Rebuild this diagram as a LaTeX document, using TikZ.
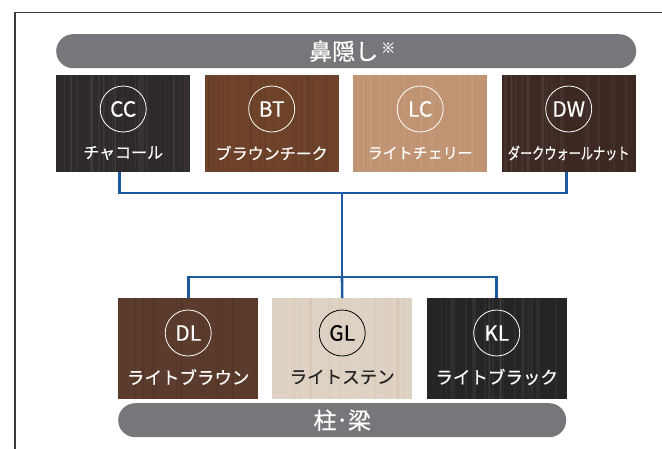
\documentclass[tikz,border=0pt]{standalone}
\usepackage{fontspec}
\setmainfont{Noto Sans CJK JP}
\newfontfamily\jp[FakeBold=0.6]{Noto Sans CJK JP}
\newfontfamily\lat[FakeBold=0.3]{Noto Sans CJK JP}
\usetikzlibrary{calc}
\definecolor{pillgray}{HTML}{76777A}
\definecolor{connblue}{HTML}{1E5AA0}
\definecolor{framegray}{HTML}{3A3A3A}
\definecolor{cccol}{HTML}{2D2A29}
\definecolor{btcol}{HTML}{6E4329}
\definecolor{lccol}{HTML}{C09473}
\definecolor{dwcol}{HTML}{3D2822}
\definecolor{dlcol}{HTML}{5B3B2B}
\definecolor{glcol}{HTML}{DDD2C3}
\definecolor{klcol}{HTML}{262525}
\tikzset{
  swatchtop/.style={draw=none, fill=#1, minimum width=134pt, minimum height=97pt, inner sep=0pt, anchor=north west},
  swatchbot/.style={draw=none, fill=#1, minimum width=140pt, minimum height=101pt, inner sep=0pt, anchor=north west},
  badge/.style={circle, draw=#1, text=#1, line width=0.8pt, minimum size=46pt, inner sep=0pt, font=\lat\fontsize{21}{21}\selectfont},
  swlabel/.style={text=#1, inner sep=0pt, font=\jp\fontsize{16}{16}\selectfont},
  pill/.style={fill=pillgray, rounded corners=17pt, inner sep=0pt, anchor=north west},
  pilltext/.style={text=white, inner sep=0pt, font=\jp\fontsize{23}{23}\selectfont},
  conn/.style={draw=connblue, line width=2.6pt},
  grain/.style={line width=#1, opacity=0.045},
}
% wood grain inside a swatch node: #1 node name, #2 streak colour
\newcommand{\woodgrain}[2]{%
  \begin{scope}
    \clip (#1.north west) rectangle (#1.south east);
    \foreach \k in {1,...,26}{
      \pgfmathsetmacro{\gx}{rnd}
      \pgfmathsetmacro{\gw}{0.5+2*rnd}
      \draw[grain=\gw pt, #2] ($(#1.north west)!\gx!(#1.north east)$) -- ($(#1.south west)!\gx!(#1.south east)$);
    }
  \end{scope}}
\begin{document}
\begin{tikzpicture}[x=1pt,y=-1pt]
\pgfmathsetseed{7}
\useasboundingbox (0,0) rectangle (662,448);
% outer frame
\draw[framegray, line width=1.3pt] (15,449) -- (15,12.5) -- (663,12.5);
% top pill
\node[pill, minimum width=580pt, minimum height=34pt] (toppill) at (56,34) {};
\node[pilltext] (toptitle) at ($(toppill.center)+(6,0)$) {鼻隠し\hspace{3pt}\raisebox{7pt}{\fontsize{14}{14}\selectfont ※}};
% top swatches
\node[swatchtop=cccol] (cc) at (56,75) {};
\node[swatchtop=btcol] (bt) at (204.5,75) {};
\node[swatchtop=lccol] (lc) at (353,75) {};
\node[swatchtop=dwcol] (dw) at (501.5,75) {};
% bottom swatches
\node[swatchbot=dlcol] (dl) at (118,298) {};
\node[swatchbot=glcol] (gl) at (272,298) {};
\node[swatchbot=klcol] (kl) at (426.5,298) {};
\woodgrain{cc}{white}
\woodgrain{bt}{black}
\woodgrain{lc}{white}
\woodgrain{dw}{white}
\woodgrain{dl}{black}
\woodgrain{gl}{brown}
\woodgrain{kl}{white}
% badges and labels
\node[badge=white] (ccb) at ($(cc.north)+(0,34)$) {CC};
\node[badge=white] (btb) at ($(bt.north)+(0,34)$) {BT};
\node[badge=white] (lcb) at ($(lc.north)+(0,34)$) {LC};
\node[badge=white] (dwb) at ($(dw.north)+(0,34)$) {DW};
\node[swlabel=white] (ccl) at ($(cc.north)+(0,78)$) {チャコール};
\node[swlabel=white] (btl) at ($(bt.north)+(0,78)$) {ブラウンチーク};
\node[swlabel=white] (lcl) at ($(lc.north)+(0,78)$) {\fontsize{15}{15}\selectfont ライトチェリー};
\node[swlabel=white] (dwl) at ($(dw.north)+(0,78)$) {\scalebox{0.76}[1]{ダークウォールナット}};
\node[badge=white] (dlb) at ($(dl.north)+(0,35)$) {DL};
\node[badge=black] (glb) at ($(gl.north)+(0,35)$) {GL};
\node[badge=white] (klb) at ($(kl.north)+(0,35)$) {KL};
\node[swlabel=white] (dll) at ($(dl.north)+(0,79)$) {\fontsize{17.5}{17.5}\selectfont ライトブラウン};
\node[swlabel=black!85] (gll) at ($(gl.north)+(0,79)$) {\fontsize{17.5}{17.5}\selectfont ライトステン};
\node[swlabel=white] (kll) at ($(kl.north)+(0,79)$) {\fontsize{17.5}{17.5}\selectfont ライトブラック};
% bottom pill
\node[pill, minimum width=448pt, minimum height=34pt] (botpill) at (118,403) {};
\node[pilltext] (bottitle) at (botpill.center) {柱･梁};
% connectors
\coordinate (hubtop) at (342,193);
\coordinate (hubbot) at (342,277);
\draw[conn] ($(cc.south)+(-4,0)$) |- (hubtop);
\draw[conn] ($(dw.south)+(-2,0)$) |- (hubtop);
\draw[conn] ($(bt.south)+(-1,0)$) -- ($(bt.south)+(-1,0)$ |- hubtop);
\draw[conn] ($(lc.south)+(-1,0)$) -- ($(lc.south)+(-1,0)$ |- hubtop);
\draw[conn] (hubtop) -- (hubbot);
\draw[conn] (dl.north) |- (hubbot);
\draw[conn] (kl.north) |- (hubbot);
\draw[conn] (hubbot) -- (gl.north);
\end{tikzpicture}
\end{document}
